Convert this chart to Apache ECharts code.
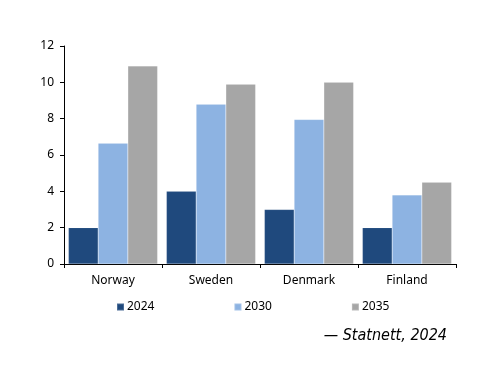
<!DOCTYPE html>
<html><head><meta charset="utf-8">
<script src="https://cdn.jsdelivr.net/npm/echarts@6/dist/echarts.min.js"></script>
<style>html,body{margin:0;padding:0;background:#fff}#c{width:500px;height:386px}</style>
</head><body><div id="c"></div>
<script>
const categories = ['Norway', 'Sweden', 'Denmark', 'Finland'];
const seriesNames = ['2024', '2030', '2035'];
const values2024 = [2, 4, 3, 2];
const values2030 = [6.65, 8.8, 7.95, 3.8];
const values2035 = [10.9, 9.9, 10.0, 4.5];
const yTicks = [0, 2, 4, 6, 8, 10, 12];
const colors = ['#1F497D', '#8DB3E2', '#A6A6A6'];
const sourceText = '— Statnett, 2024';

const chart = echarts.init(document.getElementById('c'), null, {renderer: 'canvas'});
const font = 'Noto Sans';
const dataSets = [values2024, values2030, values2035];
chart.setOption({
  animation: false,
  grid: {left: 64, right: 44, top: 46, bottom: 122, containLabel: false},
  legend: {
    data: seriesNames, left: 116, top: 301, padding: 0, itemWidth: 7, itemHeight: 7, itemGap: 79,
    icon: 'rect', textStyle: {fontFamily: font, fontSize: 12, color: '#000', padding: [0, 0, 0, -2]}
  },
  xAxis: {
    type: 'category', data: categories,
    axisLine: {lineStyle: {color: '#000', width: 1}},
    axisTick: {show: true, alignWithLabel: false, length: 4, lineStyle: {color: '#000'}},
    axisLabel: {fontFamily: font, fontSize: 12, color: '#000', margin: 11}
  },
  yAxis: {
    type: 'value', min: yTicks[0], max: yTicks[yTicks.length - 1], interval: 2,
    splitLine: {show: false},
    axisLine: {show: true, lineStyle: {color: '#000', width: 1}},
    axisTick: {show: true, length: 4, lineStyle: {color: '#000'}},
    axisLabel: {fontFamily: font, fontSize: 12, color: '#000', margin: 10}
  },
  series: seriesNames.map((n, i) => ({
    name: n, type: 'bar', data: dataSets[i], barGap: '0%', barCategoryGap: '9%',
    itemStyle: {color: colors[i], borderColor: 'rgba(255,255,255,0.2)', borderWidth: 0.5}
  })),
  graphic: [{
    type: 'text', right: 53, top: 328,
    style: {text: sourceText, font: 'italic 16px "DejaVu Sans Condensed", "DejaVu Sans"', fill: '#000'}
  }]
});
</script></body></html>
